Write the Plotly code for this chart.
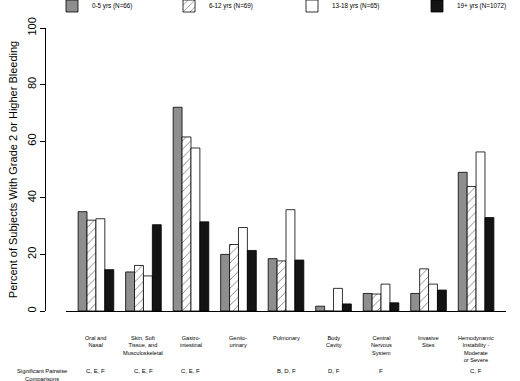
import plotly.graph_objects as go

categories = ["Oral and<br>Nasal", "Skin, Soft<br>Tissue, and<br>Musculoskeletal", "Gastro-<br>intestinal",
              "Genito-<br>urinary", "Pulmonary", "Body<br>Cavity", "Central<br>Nervous<br>System",
              "Invasive<br>Sites", "Hemodynamic<br>Instability -<br>Moderate<br>or Severe"]
comparisons = ["C, E, F", "C, E, F", "C, E, F", "", "B, D, F", "D, F", "F", "", "C, F"]
series_names = ["0-5 yrs (N=66)", "6-12 yrs (N=69)", "13-18 yrs (N=65)", "19+ yrs (N=1072)"]
v_0_5 = [35.1, 13.8, 72.0, 20.0, 18.5, 1.7, 6.2, 6.2, 49.0]
v_6_12 = [32.1, 16.1, 61.5, 23.5, 17.7, 0.0, 6.0, 14.9, 44.0]
v_13_18 = [32.6, 12.4, 57.6, 29.5, 35.8, 8.0, 9.5, 9.5, 56.2]
v_19p = [14.6, 30.5, 31.5, 21.4, 18.0, 2.5, 2.9, 7.4, 33.0]
yticks = [0, 20, 40, 60, 80, 100]

FONT = "Liberation Sans, Arial, sans-serif"
xs = list(range(len(categories)))

fig = go.Figure()
styles = [
    dict(color="#8e8e8e"),
    dict(color="white", pattern=dict(shape="/", fgcolor="black", bgcolor="white", size=6, solidity=0.15)),
    dict(color="white"),
    dict(color="#141414"),
]
legend_ids = ["legend", "legend2", "legend3", "legend4"]
legend_text_x = [95, 212, 335, 460]
for name, vals, st, lid in zip(series_names, [v_0_5, v_6_12, v_13_18, v_19p], styles, legend_ids):
    fig.add_trace(go.Bar(x=xs, y=vals, name=name, legend=lid,
                         marker=dict(line=dict(color="black", width=0.8), **st)))

annotations = []
for i, (c, comp) in enumerate(zip(categories, comparisons)):
    annotations.append(dict(x=i, y=-0.078, xref="x", yref="paper", text=c, showarrow=False,
                            yanchor="top", xanchor="center", font=dict(size=5.6, family=FONT, color="black")))
    if comp:
        annotations.append(dict(x=i, y=-0.194, xref="x", yref="paper", text=comp, showarrow=False,
                                yanchor="top", xanchor="center", font=dict(size=6, family=FONT, color="black")))
annotations.append(dict(x=-3 / 461, y=-0.194, xref="paper", yref="paper",
                        text="Significant Pairwise<br>Comparisons", showarrow=False,
                        yanchor="top", xanchor="center", font=dict(size=5.8, family=FONT, color="black")))

legend_common = dict(orientation="h", xref="container", y=1 - 6 / 381, yref="container",
                     yanchor="middle", xanchor="left", font=dict(size=6.3, family=FONT),
                     itemwidth=30, bgcolor="rgba(0,0,0,0)")
layout_legends = {lid: dict(x=(tx - 43) / 520, **legend_common)
                  for lid, tx in zip(legend_ids, legend_text_x)}

fig.update_layout(
    width=520, height=381, autosize=False,
    margin=dict(l=45, r=14, t=28, b=70, autoexpand=False),
    paper_bgcolor="white", plot_bgcolor="white",
    barmode="group", bargap=0.25, bargroupgap=0,
    font=dict(family=FONT, color="black"),
    showlegend=True,
    xaxis=dict(domain=[21 / 461, 1], range=[-0.63, 8.63], showline=True, linecolor="black",
               linewidth=1, showticklabels=False, ticks="", showgrid=False, zeroline=False),
    yaxis=dict(range=[0, 100], tickvals=yticks, ticks="outside", ticklen=5, tickcolor="black",
               showline=True, linecolor="black", linewidth=1, showgrid=False, zeroline=False,
               anchor="free", position=0, tickangle=-90, tickfont=dict(size=11),
               title=dict(text="Percent of Subjects With Grade 2 or Higher Bleeding",
                          font=dict(size=11), standoff=4)),
    annotations=annotations,
    **layout_legends,
)

fig.write_html("out.html", config={"displayModeBar": False},
               post_script="document.body.style.margin='0';document.body.style.overflow='hidden';")
